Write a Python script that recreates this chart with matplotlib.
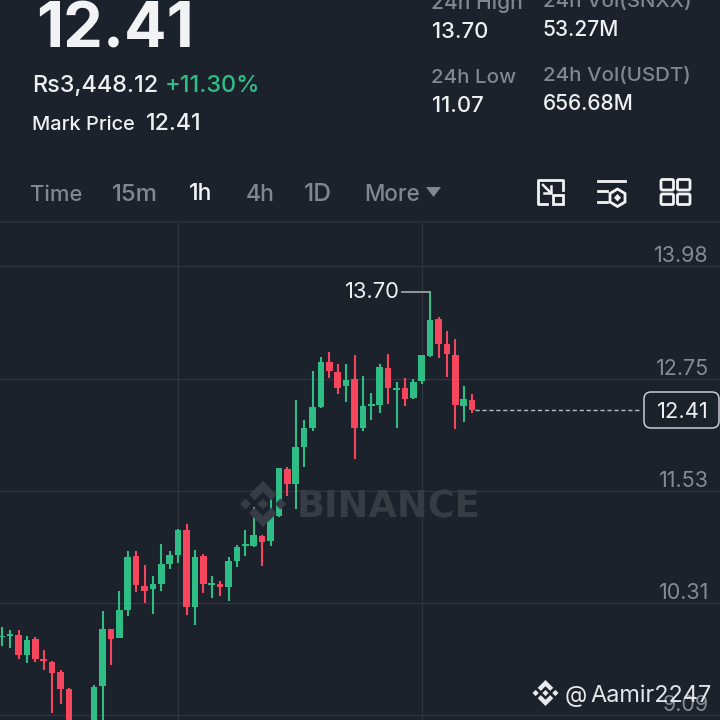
import matplotlib
matplotlib.use("Agg")
import matplotlib.pyplot as plt
from matplotlib.patches import Rectangle, FancyBboxPatch, Polygon

FONT = ["Inter", "DejaVu Sans"]
BG = "#1c222b"
GREEN = "#2ebd85"
RED = "#f6465d"
GRID = "#2f353d"

opens = [9.94, 9.95, 9.96, 9.74, 9.92, 9.70, 9.67, 9.56, 9.37, 8.90, 8.75, 8.85, 9.40, 10.03, 9.93,
         10.23, 10.82, 10.49, 10.46, 10.52, 10.73, 10.83, 11.10, 10.27, 10.82, 10.50, 10.52, 10.48, 10.77,
         10.93, 10.93, 11.04, 10.98, 11.26, 11.77, 11.61, 12.01, 12.21, 12.44, 12.93, 12.83, 12.67, 12.75,
         12.21, 12.46, 12.47, 12.87, 12.63, 12.65, 12.54, 12.73, 13.00, 13.40, 13.13, 13.01, 12.46, 12.52]
highs = [10.05, 10.02, 10.02, 9.95, 9.94, 9.80, 9.68, 9.58, 9.38, 8.95, 8.90, 9.42, 10.22, 10.03, 10.44,
         10.87, 10.88, 10.72, 10.60, 10.95, 10.88, 11.12, 11.17, 10.89, 10.84, 10.60, 10.55, 10.81, 10.94,
         11.10, 11.35, 11.05, 11.47, 11.78, 11.79, 12.52, 12.30, 12.84, 12.99, 13.04, 12.91, 12.91, 13.01,
         12.78, 12.60, 12.91, 13.02, 12.72, 12.76, 12.75, 13.01, 13.70, 13.42, 13.27, 13.19, 12.67, 12.59]
lows = [9.84, 9.82, 9.70, 9.66, 9.67, 9.58, 9.11, 9.21, 8.85, 8.70, 8.70, 8.80, 8.98, 9.63, 9.93,
        10.17, 10.43, 10.31, 10.19, 10.44, 10.68, 10.75, 10.18, 10.07, 10.42, 10.36, 10.39, 10.33, 10.70,
        10.82, 10.92, 10.71, 10.93, 11.25, 11.48, 11.33, 11.79, 12.18, 12.43, 12.76, 12.59, 12.50, 11.88,
        12.18, 12.30, 12.38, 12.48, 12.21, 12.45, 12.53, 12.69, 12.99, 12.98, 12.77, 12.20, 12.28, 12.38]
closes = [9.95, 9.97, 9.74, 9.91, 9.70, 9.68, 9.55, 9.37, 8.90, 8.75, 8.85, 9.39, 10.03, 9.92, 10.23,
          10.81, 10.51, 10.44, 10.52, 10.73, 10.83, 11.10, 10.27, 10.81, 10.52, 10.53, 10.48, 10.77, 10.92,
          10.95, 11.05, 10.97, 11.26, 11.78, 11.61, 12.01, 12.21, 12.44, 12.93, 12.84, 12.65, 12.74, 12.21,
          12.46, 12.48, 12.88, 12.65, 12.65, 12.53, 12.72, 13.01, 13.39, 13.13, 13.02, 12.47, 12.53, 12.41]
price_ticks = [13.98, 12.75, 11.53, 10.31, 9.09]
price_labels = ["13.98", "12.75", "11.53", "10.31", "9.09"]
vgrid_candles = [21, 50]
last_price = 12.41
high_price = 13.70
high_candle = 51

STEP = 8.4
fig = plt.figure(figsize=(7.2, 7.2), dpi=100, facecolor=BG)

# price chart: occupies y 223..720 px of the figure
ax = fig.add_axes([0, 0, 1, 497 / 720], facecolor=BG)
ax.set_xlim(-1.7 / STEP, (720 - 1.7) / STEP)
ax.set_ylim(13.98 - (720 - 266) / 91.8, 13.98 + (266 - 223) / 91.8)
ax.axis("off")
for p in price_ticks:
    ax.axhline(p, color=GRID, lw=1.0, zorder=1)
for c in vgrid_candles:
    ax.axvline(c, color=GRID, lw=1.0, zorder=1)
for i, (o, h, l, c) in enumerate(zip(opens, highs, lows, closes)):
    col = GREEN if c >= o else RED
    ax.vlines(i, l, h, color=col, lw=1.5, zorder=3)
    ax.bar(i, abs(c - o), bottom=min(o, c), width=0.78, color=col, lw=0, zorder=3)

# price-line extras
ax.plot([len(opens) - 0.6, 76.0], [last_price, last_price], color="#b8bcc2", lw=1, ls=(0, (3, 2)), zorder=2)
ax.plot([47.7, high_candle], [high_price, high_price], color="#a8acb0", lw=1.2, zorder=4)

# overlay in pixel coordinates
ov = fig.add_axes([0, 0, 1, 1], facecolor="none")
ov.set_xlim(0, 720)
ov.set_ylim(720, 0)
ov.axis("off")


def T(x, y, s, px, color, ha="left", weight="medium", alpha=1.0, z=6, family=FONT):
    return ov.text(x, y, s, fontsize=px * 0.72, color=color, ha=ha, va="baseline",
                   family=family, fontweight=weight, alpha=alpha, zorder=z)


def logo(cx, cy, r, color, z):
    """Binance diamond mark: centre and side diamonds, top and bottom chevrons."""
    d = 0.24
    for dx in (-0.76, 0, 0.76):
        ov.add_patch(Polygon([[cx + (dx) * r, cy - d * r], [cx + (dx + d) * r, cy],
                              [cx + dx * r, cy + d * r], [cx + (dx - d) * r, cy]],
                             closed=True, fc=color, ec="none", zorder=z))
    chev = [(0, -1), (0.6, -0.4), (0.36, -0.16), (0, -0.52), (-0.36, -0.16), (-0.6, -0.4)]
    for sgn in (1, -1):
        ov.add_patch(Polygon([[cx + a * r, cy + sgn * b * r] for a, b in chev],
                             closed=True, fc=color, ec="none", zorder=z))


WHITE = "#eef0f2"
GRAY = "#7f8790"

T(36, 47, "12.41", 63, "#f2f3f5", weight="bold")
T(32, 92, "Rs3,448.12", 23.5, WHITE)
T(165, 92, "+11.30%", 23.5, GREEN)
T(32, 130, "Mark Price", 20, WHITE)
T(146, 130, "12.41", 23, WHITE)

T(431, 9, "24h High", 21, GRAY)
T(543, 7, "24h Vol(SNXX)", 20.5, GRAY)
T(432, 38, "13.70", 22, WHITE)
T(542, 36, "53.27M", 21, WHITE)
T(431, 83, "24h Low", 20.5, GRAY)
T(543, 81, "24h Vol(USDT)", 20.5, GRAY)
T(432, 112, "11.07", 22, WHITE)
T(543, 110, "656.68M", 21, WHITE)

T(30, 201, "Time", 22, GRAY)
T(112, 201, "15m", 24, GRAY)
T(189, 200, "1h", 23, "#f4f5f6")
T(246, 201, "4h", 23, GRAY)
T(304, 201, "1D", 24.5, GRAY)
T(364, 201, "More", 22.5, GRAY)
ov.add_patch(Polygon([[426, 187], [441, 187], [433.5, 197]], closed=True, fc=GRAY, ec="none"))

# toolbar icons
ICON = "#f2f3f5"
ov.plot([547, 537.5, 537.5, 562.5, 562.5], [204, 204, 180, 180, 190], color=ICON, lw=2)
ov.add_patch(Rectangle((553, 195), 9.5, 9, fc="none", ec=ICON, lw=2))
ov.plot([543, 551], [185, 193], color=ICON, lw=1.8)
ov.plot([544, 551, 551], [193, 193, 186], color=ICON, lw=1.8)
ov.plot([598, 625], [181, 181], color=ICON, lw=2)
ov.plot([598, 607], [191, 191], color=ICON, lw=2)
ov.plot([598, 607], [202, 202], color=ICON, lw=2)
ov.add_patch(Polygon([[617.5, 189], [625, 193.5], [625, 202], [617.5, 206.5], [610, 202], [610, 193.5]],
                     closed=True, fc="none", ec=ICON, lw=2))
ov.add_patch(Polygon([[617.5, 194], [621, 197.7], [617.5, 201.5], [614, 197.7]], closed=True, fc=ICON, ec="none"))
for x0 in (661, 677.5):
    for y0 in (179.5, 194):
        ov.add_patch(FancyBboxPatch((x0, y0), 12.5, 10.5, boxstyle="round,pad=0,rounding_size=1.5",
                                    fc="none", ec=ICON, lw=2))

ov.plot([0, 720], [222, 222], color="#2a3038", lw=1.2)

# axis labels
for p, lab in zip(price_ticks, price_labels):
    y = 266 + (13.98 - p) * 91.8
    T(709, y - 3.5, lab, 21.5, "#858b93", ha="right", z=5, weight="normal")
T(345, 298.5, "13.70", 22, WHITE, z=7, weight="normal")
ov.add_patch(FancyBboxPatch((644, 392), 75, 36, boxstyle="round,pad=0,rounding_size=7",
                            fc=BG, ec="#c8cbd0", lw=1.1, zorder=6))
T(709, 418, "12.41", 22, WHITE, ha="right", z=7, weight="normal")

# watermark
T(297, 518, "BINANCE", 36.8, "#363c44", weight="bold", z=2, family=["DejaVu Sans"])
logo(263, 504, 23, "#363c44", 2)

# credit
logo(545.5, 693, 13, "#e8eaec", 8)
T(565, 702, "@", 23, "#e4e6e9", z=8, weight="normal")
T(590, 702, "Aamir2247", 23.5, "#e4e6e9", z=8, weight="normal")

fig.savefig("out.png", dpi=100, facecolor=BG)
